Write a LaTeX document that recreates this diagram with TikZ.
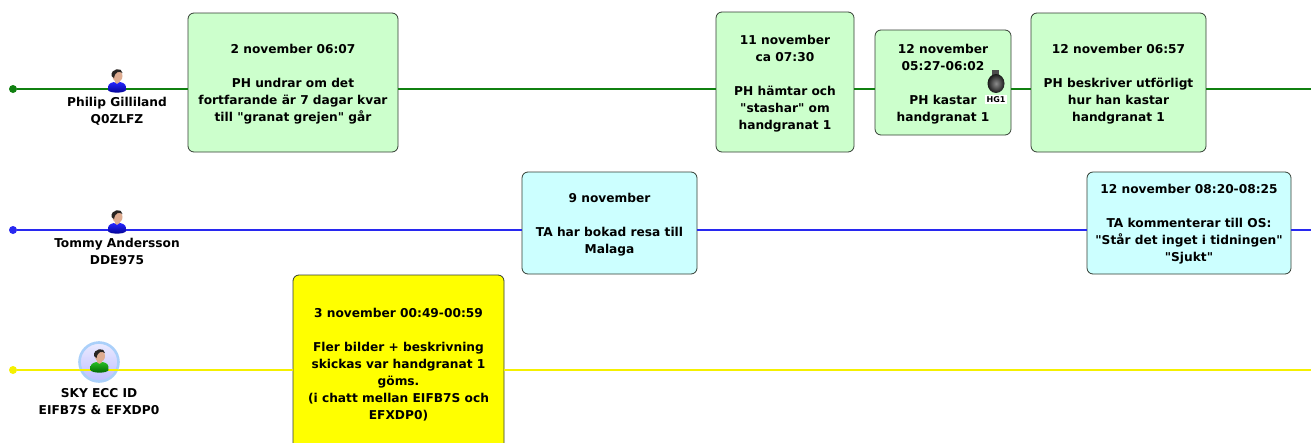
\documentclass[tikz,border=0pt]{standalone}
\usepackage{fontspec}
\setmainfont{DejaVu Sans}[Ligatures=TeXOff]
\usetikzlibrary{shadings}
\definecolor{linegreen}{RGB}{16,128,16}
\definecolor{lineblue}{RGB}{40,40,240}
\definecolor{lineyellow}{RGB}{245,240,0}
\definecolor{boxgreen}{RGB}{204,255,204}
\definecolor{boxcyan}{RGB}{204,255,255}
\definecolor{boxyellow}{RGB}{255,255,0}
\definecolor{boxedge}{RGB}{50,60,50}
\definecolor{skin}{RGB}{222,172,145}
\definecolor{hair}{RGB}{40,36,34}
\definecolor{ringblue}{RGB}{170,208,250}
\newcommand{\boxtop}{\mbox{}\\[-4.5pt]}
\tikzset{
  eventbox/.style={draw=boxedge, rounded corners=6pt, align=center, inner sep=0pt, line width=0.8pt,
    font=\fontsize{12.2}{17}\selectfont\bfseries},
  startdot/.style={circle, inner sep=0pt, minimum size=8pt},
  personlabel/.style={align=center, inner sep=0pt, font=\fontsize{12.2}{17}\selectfont\bfseries},
  pics/person/.style={code={
    \fill[skin] (-2.5,-3) rectangle (2.5,2);
    \shade[top color=#1!85!white, bottom color=#1!55!black]
      (-9,8) .. controls (-9.5,3) and (-8,1) .. (-3,0) -- (0,2) -- (3,0) .. controls (8,1) and (9.5,3) .. (9,8)
      .. controls (8,11.5) and (-8,11.5) .. (-9,8) -- cycle;
    \fill[skin] (0.5,-6) ellipse (5 and 6);
    \fill[hair] (-5.5,-6) .. controls (-6.5,-14) and (5.5,-15) .. (5.5,-9) .. controls (2,-11) and (-1.5,-11) .. (-3,-4) -- cycle;
  }}
}
\begin{document}
\begin{tikzpicture}[x=1pt,y=-1pt]
  \useasboundingbox (0,0) rectangle (1311,442);
  \clip (0,0) rectangle (1311,442);
  % lanes
  \node[startdot, fill=linegreen] (startP) at (13,89) {};
  \node[startdot, fill=lineblue] (startT) at (13,230) {};
  \node[startdot, fill=lineyellow] (startS) at (13,370) {};
  \coordinate (endP) at (1311,89);
  \coordinate (endT) at (1311,230);
  \coordinate (endS) at (1311,370);
  % green boxes
  \node[eventbox, fill=boxgreen, minimum width=210pt, minimum height=139pt] (pGrejen) at (293,82.5)
    {\boxtop 2 november 06:07\\[17pt]PH undrar om det\\fortfarande är 7 dagar kvar\\till "granat grejen" går};
  \node[eventbox, fill=boxgreen, minimum width=138pt, minimum height=140pt] (pStashar) at (785,82)
    {\boxtop 11 november\\ca 07:30\\[17pt]PH hämtar och\\"stashar" om\\handgranat 1};
  \node[eventbox, fill=boxgreen, minimum width=136pt, minimum height=105pt] (pKastar) at (943,82.5)
    {\boxtop 12 november\\05:27-06:02\\[17pt]PH kastar\\handgranat 1};
  \node[eventbox, fill=boxgreen, minimum width=175pt, minimum height=139pt] (pBeskriver) at (1118.5,82.5)
    {\boxtop 12 november 06:57\\[17pt]PH beskriver utförligt\\hur han kastar\\handgranat 1};
  % cyan boxes
  \node[eventbox, fill=boxcyan, minimum width=175pt, minimum height=102pt] (tResa) at (609.5,223)
    {\boxtop 9 november\\[17pt]TA har bokad resa till\\Malaga};
  \node[eventbox, fill=boxcyan, minimum width=204pt, minimum height=102pt] (tKommentar) at (1189,223)
    {\boxtop 12 november 08:20-08:25\\[17pt]TA kommenterar till OS:\\"Står det inget i tidningen"\\"Sjukt"};
  % yellow box
  \node[eventbox, fill=boxyellow, minimum width=211pt, minimum height=200pt] (sBilder) at (398.5,375) {};
  \node[personlabel] (sBilderText) at (398.5,364.5)
    {3 november 00:49-00:59\\[17pt]Fler bilder + beskrivning\\skickas var handgranat 1\\göms.\\(i chatt mellan EIFB7S och\\EFXDP0)};
  % lines
  \draw[linegreen, line width=2.8pt] (startP) -- (startP -| pGrejen.west);
  \draw[linegreen, line width=2.8pt] (startP -| pGrejen.east) -- (startP -| pStashar.west);
  \draw[linegreen, line width=2.8pt] (startP -| pStashar.east) -- (startP -| pKastar.west);
  \draw[linegreen, line width=2.8pt] (startP -| pKastar.east) -- (startP -| pBeskriver.west);
  \draw[linegreen, line width=2.8pt] (startP -| pBeskriver.east) -- (endP);
  \draw[lineblue, line width=1.2pt] (startT) -- (startT -| tResa.west);
  \draw[lineblue, line width=1.2pt] (startT -| tResa.east) -- (startT -| tKommentar.west);
  \draw[lineblue, line width=1.2pt] (startT -| tKommentar.east) -- (endT);
  \draw[lineyellow, line width=2.4pt] (startS) -- (startS -| sBilder.west);
  \draw[lineyellow, line width=2.4pt] (startS -| sBilder.east) -- (endS);
  % people
  \pic at (117,82) {person=blue};
  \node[personlabel] (pName) at (117,111.5) {Philip Gilliland\\Q0ZLFZ};
  \pic at (117,223) {person=blue};
  \node[personlabel] (tName) at (117,251.5) {Tommy Andersson\\DDE975};
  \shade[top color=blue!8, bottom color=blue!25] (99,362) circle (19.5pt);
  \draw[ringblue, line width=2.6pt] (99,362) circle (19.5pt);
  \draw[lineyellow, line width=2.4pt] (80,370) -- (118,370);
  \pic at (99.5,362) {person=green!70!black};
  \node[personlabel] (sName) at (99,401.5) {SKY ECC ID\\EIFB7S \& EFXDP0};
  % grenade
  \fill[black!70] (992,70) rectangle (999,76);
  \shade[inner color=black!45, outer color=black!90] (996,83.5) ellipse (8.5pt and 9.5pt);
  \node[fill=white, inner sep=1.5pt, font=\fontsize{8}{8}\selectfont\bfseries] (hgLabel) at (996,99.5) {HG1};
\end{tikzpicture}
\end{document}
